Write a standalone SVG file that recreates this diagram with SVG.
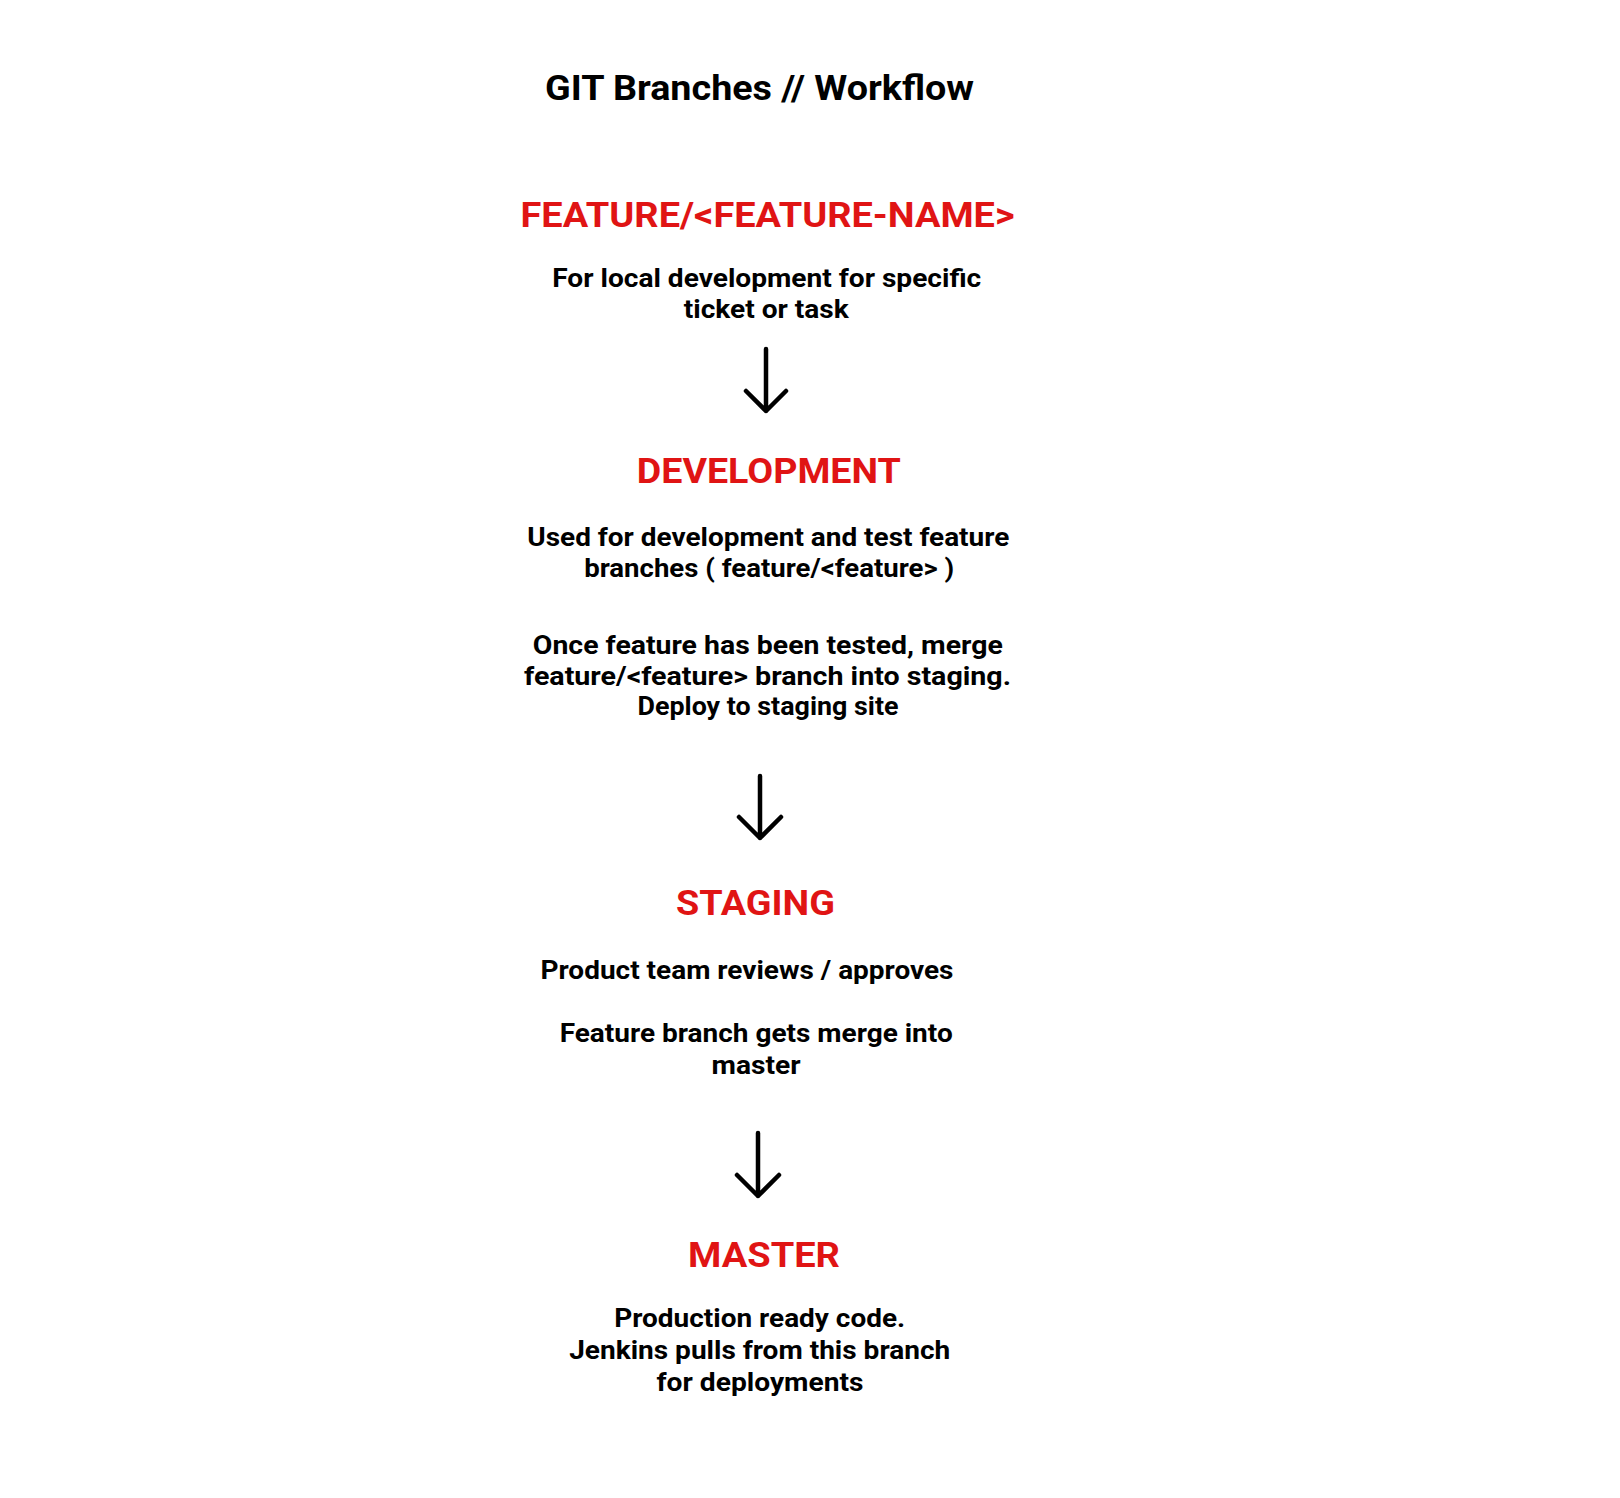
<svg xmlns="http://www.w3.org/2000/svg" width="1620" height="1498" viewBox="0 0 1620 1498">
<style>
text{font-family:Roboto,"Liberation Sans",sans-serif;font-weight:700;text-anchor:middle}
.title{font-size:35px;fill:#000}
.head{font-size:35px;fill:#e01414}
.body{font-size:25px;fill:#000}
.arrow{fill:none;stroke:#000;stroke-width:4.5;stroke-linecap:round;stroke-linejoin:round}
</style>
<rect width="1620" height="1498" fill="#fff"/>
<g id="title"><text class="title" x="759.5" y="100" textLength="429" lengthAdjust="spacingAndGlyphs">GIT Branches // Workflow</text></g>
<g id="feature">
<text class="head" x="767.5" y="227" textLength="494" lengthAdjust="spacingAndGlyphs">FEATURE/&lt;FEATURE-NAME&gt;</text>
<text class="body" x="766.7" y="287" textLength="429" lengthAdjust="spacingAndGlyphs">For local development for specific</text>
<text class="body" x="766.3" y="318" textLength="165" lengthAdjust="spacingAndGlyphs">ticket or task</text>
</g>
<g id="development">
<text class="head" x="768.8" y="483" textLength="264" lengthAdjust="spacingAndGlyphs">DEVELOPMENT</text>
<text class="body" x="768.3" y="546" textLength="482" lengthAdjust="spacingAndGlyphs">Used for development and test feature</text>
<text class="body" x="769.2" y="577" textLength="370" lengthAdjust="spacingAndGlyphs">branches ( feature/&lt;feature&gt; )</text>
<text class="body" x="767.8" y="653.5" textLength="470" lengthAdjust="spacingAndGlyphs">Once feature has been tested, merge</text>
<text class="body" x="767.5" y="684.5" textLength="487" lengthAdjust="spacingAndGlyphs">feature/&lt;feature&gt; branch into staging.</text>
<text class="body" x="768" y="714.5" textLength="261" lengthAdjust="spacingAndGlyphs">Deploy to staging site</text>
</g>
<g id="staging">
<text class="head" x="755.5" y="915" textLength="159" lengthAdjust="spacingAndGlyphs">STAGING</text>
<text class="body" x="747" y="978.5" textLength="413" lengthAdjust="spacingAndGlyphs">Product team reviews / approves</text>
<text class="body" x="756.2" y="1042" textLength="393" lengthAdjust="spacingAndGlyphs">Feature branch gets merge into</text>
<text class="body" x="756" y="1074" textLength="89" lengthAdjust="spacingAndGlyphs">master</text>
</g>
<g id="master">
<text class="head" x="764" y="1267" textLength="152" lengthAdjust="spacingAndGlyphs">MASTER</text>
<text class="body" x="759.7" y="1327" textLength="291" lengthAdjust="spacingAndGlyphs">Production ready code.</text>
<text class="body" x="759.7" y="1359" textLength="381" lengthAdjust="spacingAndGlyphs">Jenkins pulls from this branch</text>
<text class="body" x="760" y="1391" textLength="207" lengthAdjust="spacingAndGlyphs">for deployments</text>
</g>
<g id="connectors">
<path class="arrow" d="M766 349 V411 M746 391 L766 411 L786 391"/>
<path class="arrow" d="M760 776 V838 M739 817 L760 838 L781 817"/>
<path class="arrow" d="M758 1133 V1196 M737 1175 L758 1196 L779 1175"/>
</g>
</svg>
